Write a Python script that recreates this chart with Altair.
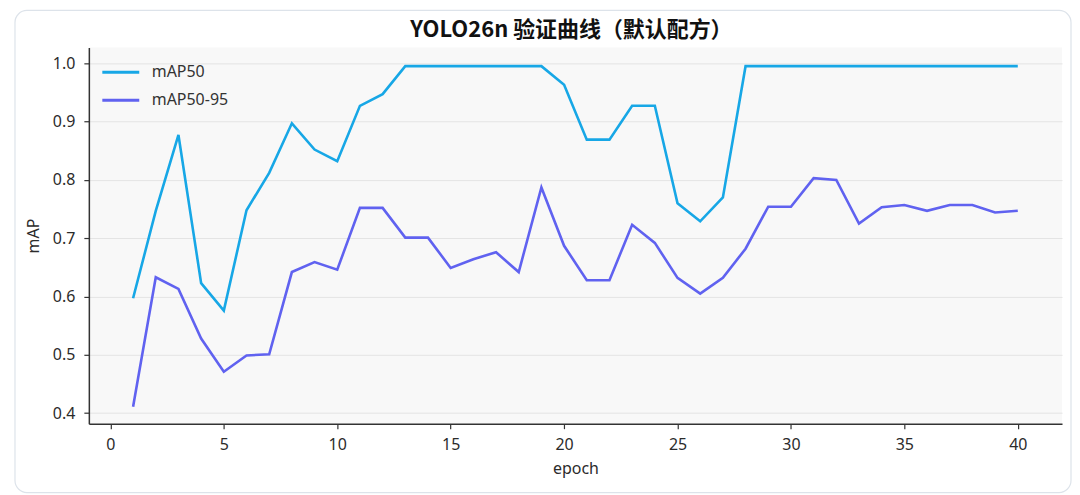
import altair as alt
import pandas as pd

epochs = list(range(1, 41))
map50 = [0.597, 0.747, 0.877, 0.623, 0.576, 0.748, 0.812, 0.897, 0.852, 0.832,
         0.927, 0.947, 0.995, 0.995, 0.995, 0.995, 0.995, 0.995, 0.995, 0.963,
         0.869, 0.869, 0.927, 0.927, 0.760, 0.729, 0.770, 0.995, 0.995, 0.995,
         0.995, 0.995, 0.995, 0.995, 0.995, 0.995, 0.995, 0.995, 0.995, 0.995]
map50_95 = [0.411, 0.633, 0.613, 0.528, 0.471, 0.499, 0.501, 0.642, 0.659, 0.646,
            0.752, 0.752, 0.701, 0.701, 0.649, 0.664, 0.676, 0.642, 0.787, 0.687,
            0.628, 0.628, 0.723, 0.692, 0.632, 0.605, 0.632, 0.682, 0.754, 0.754,
            0.803, 0.800, 0.725, 0.753, 0.757, 0.747, 0.757, 0.757, 0.744, 0.747]
series_names = ["mAP50", "mAP50-95"]
series_colors = ["#17a7e6", "#6062f0"]
x_ticks = [0, 5, 10, 15, 20, 25, 30, 35, 40]
y_ticks = [0.4, 0.5, 0.6, 0.7, 0.8, 0.9, 1.0]
title_text = "YOLO26n 验证曲线（默认配方）"

df = pd.DataFrame({
    "epoch": epochs * 2,
    "value": map50 + map50_95,
    "series": [series_names[0]] * len(epochs) + [series_names[1]] * len(epochs),
})

FONT = "Noto Sans"
W, H = 975, 377

card = alt.Chart(pd.DataFrame({"k": [0]})).mark_rect(
    fillOpacity=0, stroke="#dde3ea", strokeWidth=1.2, cornerRadius=12, clip=False
).encode(
    x=alt.value(-74), x2=alt.value(984), y=alt.value(-37), y2=alt.value(446)
)

title = alt.Chart(pd.DataFrame({"t": [title_text]})).mark_text(
    fontSize=22, fontWeight="bold", font="Noto Sans CJK SC", color="#111111",
    align="center", baseline="middle", clip=False
).encode(
    x=alt.value(W / 2 - 4), y=alt.value(-17), text="t:N"
)

lines = alt.Chart(df).mark_line(strokeWidth=2.6, clip=True).encode(
    x=alt.X("epoch:Q",
            scale=alt.Scale(domain=[-0.95, 41.95], nice=False, zero=False),
            axis=alt.Axis(values=x_ticks, format="d", title="epoch", grid=False,
                          labelPadding=8, titlePadding=8)),
    y=alt.Y("value:Q",
            scale=alt.Scale(domain=[0.382, 1.0272], nice=False, zero=False),
            axis=alt.Axis(values=y_ticks, format=".1f", title="mAP", grid=True,
                          labelPadding=9, titlePadding=11)),
    color=alt.Color("series:N",
                    scale=alt.Scale(domain=series_names, range=series_colors),
                    legend=alt.Legend(title=None, orient="none", legendX=12,
                                      legendY=15, padding=0,
                                      symbolType="stroke",
                                      symbolSize=1369, symbolStrokeWidth=3,
                                      clipHeight=20, rowPadding=8,
                                      labelOffset=11, labelFontSize=16,
                                      labelFont=FONT, labelColor="#333333")),
)

chart = alt.layer(card, lines, title).properties(
    width=W, height=H,
    padding={"left": 6, "top": 1, "right": 0, "bottom": 0},
).configure(
    background="white",
).configure_view(
    fill="#f8f8f8", stroke=None,
).configure_axis(
    labelFont=FONT, titleFont=FONT, labelFontSize=16, titleFontSize=16,
    labelColor="#2b2b2b", titleColor="#2b2b2b", titleFontWeight="normal",
    domainColor="#333333", domainWidth=1.5, tickColor="#333333", tickSize=5,
    tickWidth=1.2, gridColor="#e4e4e4", gridWidth=1,
)

chart.save("out.html", embed_options={"renderer": "svg", "actions": False})
